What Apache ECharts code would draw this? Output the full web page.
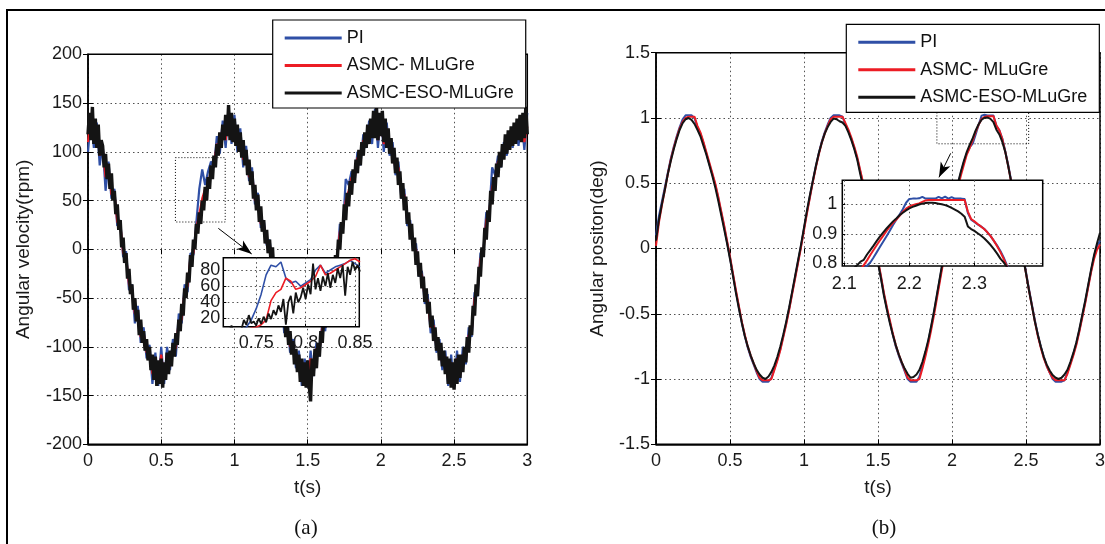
<!DOCTYPE html>
<html><head><meta charset="utf-8">
<script src="https://cdn.jsdelivr.net/npm/echarts@6/dist/echarts.min.js"></script>
<style>html,body{margin:0;padding:0;background:#fff}#c{width:1105px;height:544px}</style>
</head><body><div id="c"></div>
<script>
// ---------- DATA ----------
const seriesNames = ['PI', 'ASMC- MLuGre', 'ASMC-ESO-MLuGre'];
const xTicksMain = [0, 0.5, 1, 1.5, 2, 2.5, 3];
const velTicks = [-200, 200, 50];
const posTicks = [-1.5, 1.5, 0.5];
const insetATicksX = [0.75, 0.8, 0.85];
const insetATicksY = [20, 40, 60, 80];
const insetBTicksX = [2.1, 2.2, 2.3];
const insetBTicksY = [0.8, 0.9, 1];

// (a) angular velocity, ASMC-ESO-MLuGre, t = 0..3 step 0.01
const velESO = [
118,140,112,146,108,134,104,128,96,112,
106,84,98,72,88,62,78,50,60,36,
46,20,30,2,12,-14,-4,-30,-20,-46,
-36,-62,-50,-74,-62,-88,-72,-96,-84,-104,
-92,-114,-100,-124,-108,-134,-110,-140,-114,-138,
-112,-142,-116,-134,-106,-128,-104,-120,-96,-110,
-86,-98,-72,-84,-56,-68,-40,-50,-24,-34,
-6,-18,10,0,26,16,38,26,50,40,
64,50,74,62,86,72,96,84,108,96,
120,104,128,112,138,116,148,112,140,110,
134,106,128,100,120,94,112,86,102,76,
92,66,80,52,66,40,56,28,44,18,
30,6,20,-4,10,-14,2,-28,-16,-42,
-30,-58,-46,-72,-60,-90,-74,-98,-84,-108,
-94,-118,-102,-126,-108,-136,-112,-140,-116,-142,
-114,-138,-156,-112,-130,-102,-122,-96,-110,-84,
-96,-68,-80,-52,-64,-36,-50,-22,-34,-6,
-16,10,0,28,16,46,30,58,44,70,
56,82,68,92,78,102,86,110,96,120,
104,128,108,134,114,142,114,146,112,140,
116,142,110,134,104,124,98,114,88,104,
78,94,66,80,52,68,40,54,26,38,
10,26,-2,12,-16,-2,-28,-14,-40,-28,
-54,-40,-66,-54,-80,-68,-94,-80,-104,-90,
-114,-96,-120,-104,-128,-110,-138,-112,-142,-116,
-144,-112,-138,-108,-132,-108,-126,-100,-116,-90,
-106,-78,-88,-58,-68,-36,-48,-18,-28,2,
-8,22,10,40,28,60,46,74,60,88,
74,100,84,108,92,118,98,122,102,126,
106,130,108,134,112,138,110,140,114,146,
118];
// (a) PI, t step 0.02
const velPI = [
100,135,104,130,86,108,60,90,52,62,
24,30,-8,-2,-42,-36,-76,-58,-96,-80,
-112,-98,-138,-106,-140,-100,-138,-100,-124,-92,
-110,-66,-76,-36,-44,-4,-6,28,62,82,
66,80,90,84,116,98,132,104,146,108,
138,100,124,84,106,70,84,46,58,22,
30,4,10,-20,-16,-52,-46,-86,-70,-106,
-92,-122,-104,-140,-112,-142,-104,-130,-96,-110,
-74,-84,-44,-52,-10,-16,26,18,72,66,
80,68,100,86,118,104,132,108,144,104,
138,100,130,96,110,76,90,52,62,24,
30,0,6,-28,-22,-56,-46,-86,-72,-106,
-92,-124,-104,-140,-108,-142,-104,-136,-100,-118,
-80,-90,-44,-48,-4,-2,38,36,84,76,
96,84,110,96,120,104,128,106,134,102,
140];
// (a) ASMC- MLuGre, t step 0.02
const velASMC = [
110,138,112,126,96,104,74,84,56,58,
28,26,-4,-8,-36,-42,-66,-66,-90,-86,
-106,-104,-128,-114,-134,-108,-132,-108,-120,-98,
-102,-74,-72,-42,-38,-8,-4,22,36,52,
62,64,82,86,108,104,126,112,138,114,
132,106,118,92,100,74,78,50,52,26,
26,6,6,-16,-22,-46,-52,-78,-78,-100,
-98,-116,-110,-134,-118,-136,-112,-124,-102,-104,
-80,-78,-50,-46,-16,-12,18,22,50,60,
74,72,94,92,112,108,126,116,138,112,
134,108,124,102,104,82,84,58,56,30,
26,4,0,-22,-26,-50,-52,-80,-78,-100,
-98,-118,-110,-134,-116,-138,-112,-130,-108,-112,
-88,-84,-50,-42,-10,-2,30,38,64,72,
90,90,106,102,116,110,124,114,130,110,
126];
// (a) inset, ESO from t=0.72 step 0.0025
const insetA_ESO = [0,4,11,2,5,0,6,18,12,24,14,16,11,20,13,22,15,26,19,30,24,36,28,44,12,40,48,26,52,40,46,58,44,62,50,88,56,70,54,72,60,76,58,74,64,82,70,86,48,84,74,90,80,86,78];
// (a) inset, PI and ASMC from t=0.72 step 0.005
const insetA_PI = [0,2,4,6,9,18,32,50,74,86,84,90,70,64,66,60,64,68,80,86,76,80,84,86,88,92,88,84];
const insetA_ASMC = [0,1,3,4,6,8,9,12,18,42,52,56,70,66,56,58,62,66,72,86,74,76,80,84,88,92,94,90];

// (b) angular position, t step 0.02
const posESO = [
0.06,0.22,0.34,0.45,0.57,0.67,0.76,0.84,0.91,0.96,
0.99,1.0,0.985,0.955,0.91,0.86,0.79,0.72,0.64,0.56,
0.47,0.37,0.26,0.15,0.04,-0.08,-0.21,-0.34,-0.46,-0.57,
-0.67,-0.75,-0.82,-0.88,-0.93,-0.965,-0.99,-1.0,-0.98,-0.945,
-0.895,-0.83,-0.75,-0.66,-0.56,-0.45,-0.33,-0.21,-0.09,0.03,
0.16,0.29,0.41,0.52,0.63,0.73,0.81,0.88,0.93,0.97,
0.995,0.99,0.975,0.965,0.94,0.89,0.83,0.76,0.68,0.57,
0.47,0.36,0.24,0.12,0.0,-0.11,-0.23,-0.36,-0.47,-0.57,
-0.66,-0.74,-0.81,-0.87,-0.92,-0.96,-0.99,-0.985,-0.965,-0.93,
-0.87,-0.79,-0.7,-0.59,-0.47,-0.34,-0.21,-0.08,0.05,0.17,
0.29,0.4,0.5,0.59,0.67,0.74,0.795,0.845,0.905,0.952,
0.986,1.002,1.004,0.993,0.968,0.91,0.874,0.816,0.74,0.63,
0.51,0.37,0.22,0.07,-0.07,-0.19,-0.32,-0.44,-0.56,-0.66,
-0.75,-0.83,-0.89,-0.935,-0.97,-0.99,-1.0,-0.99,-0.965,-0.93,
-0.87,-0.8,-0.72,-0.62,-0.51,-0.4,-0.28,-0.16,-0.05,0.04,
0.12];
const posPI = [
0.1,0.25,0.36,0.47,0.58,0.69,0.78,0.86,0.93,0.99,
1.02,1.02,1.02,1.0,0.93,0.88,0.81,0.73,0.65,0.57,
0.49,0.39,0.28,0.17,0.05,-0.07,-0.2,-0.33,-0.45,-0.57,
-0.67,-0.76,-0.83,-0.89,-0.95,-1.0,-1.02,-1.02,-1.02,-0.99,
-0.92,-0.85,-0.77,-0.67,-0.57,-0.46,-0.34,-0.22,-0.1,0.02,
0.15,0.28,0.4,0.52,0.63,0.73,0.82,0.89,0.95,1.0,
1.02,1.02,1.02,1.01,0.95,0.9,0.84,0.77,0.69,0.59,
0.49,0.38,0.26,0.14,0.02,-0.1,-0.22,-0.35,-0.46,-0.56,
-0.66,-0.75,-0.82,-0.88,-0.94,-1.0,-1.02,-1.02,-1.02,-0.98,
-0.9,-0.81,-0.71,-0.6,-0.48,-0.35,-0.22,-0.09,0.04,0.16,
0.28,0.39,0.49,0.58,0.66,0.73,0.776,0.803,0.874,0.948,
1.018,1.025,1.019,1.019,1.019,0.94,0.905,0.842,0.745,0.64,
0.52,0.38,0.24,0.09,-0.05,-0.18,-0.31,-0.43,-0.55,-0.66,
-0.75,-0.83,-0.9,-0.95,-1.0,-1.02,-1.02,-1.02,-1.01,-0.95,
-0.88,-0.81,-0.73,-0.63,-0.52,-0.41,-0.29,-0.17,-0.06,0.02,
0.06];
const posASMC = [
0.02,0.2,0.33,0.45,0.57,0.68,0.77,0.85,0.92,0.97,
1.0,1.01,1.01,1.01,0.94,0.89,0.82,0.74,0.66,0.58,
0.5,0.4,0.29,0.18,0.06,-0.06,-0.19,-0.32,-0.44,-0.56,
-0.66,-0.75,-0.82,-0.88,-0.94,-0.99,-1.01,-1.01,-1.01,-1.0,
-0.93,-0.86,-0.78,-0.68,-0.58,-0.47,-0.35,-0.23,-0.11,0.01,
0.14,0.27,0.39,0.51,0.62,0.72,0.81,0.88,0.94,0.99,
1.01,1.01,1.01,1.01,0.96,0.91,0.85,0.78,0.7,0.6,
0.5,0.39,0.27,0.15,0.03,-0.09,-0.21,-0.34,-0.45,-0.55,
-0.65,-0.74,-0.81,-0.87,-0.93,-0.99,-1.01,-1.01,-1.01,-1.0,
-0.92,-0.83,-0.73,-0.62,-0.5,-0.37,-0.24,-0.11,0.02,0.14,
0.26,0.37,0.47,0.56,0.64,0.72,0.772,0.828,0.894,0.948,
0.992,1.008,1.014,1.014,1.014,0.942,0.905,0.838,0.74,0.63,
0.51,0.37,0.23,0.08,-0.06,-0.19,-0.32,-0.44,-0.56,-0.67,
-0.76,-0.84,-0.9,-0.95,-0.99,-1.01,-1.01,-1.01,-1.01,-0.96,
-0.89,-0.82,-0.74,-0.64,-0.53,-0.42,-0.3,-0.18,-0.08,-0.01,
0.03];
// (b) inset, t = 2.095 .. 2.36 step 0.005
const insetB_ESO = [0.73,0.745,0.76,0.772,0.784,0.794,0.806,0.812,0.83,0.845,
0.86,0.876,0.891,0.905,0.918,0.93,0.942,0.952,0.963,0.971,
0.979,0.986,0.991,0.995,0.999,1.002,1.004,1.005,1.005,1.004,
1.002,1.0,0.997,0.993,0.988,0.982,0.976,0.968,0.958,0.925,
0.916,0.91,0.902,0.894,0.885,0.874,0.862,0.848,0.833,0.816,
0.803,0.788,0.77,0.75];
const insetB_PI = [0.70,0.715,0.73,0.742,0.754,0.765,0.775,0.784,0.792,0.803,
0.82,0.838,0.856,0.874,0.892,0.91,0.93,0.948,0.965,0.983,
1.005,1.018,1.019,1.019,1.02,1.025,1.019,1.019,1.019,1.019,
1.025,1.02,1.026,1.019,1.024,1.019,1.019,1.019,1.018,0.97,
0.948,0.94,0.932,0.925,0.917,0.905,0.892,0.876,0.86,0.842,
0.82,0.794,0.77,0.745];
const insetB_ASMC = [0.69,0.705,0.72,0.735,0.75,0.765,0.779,0.794,0.81,0.828,
0.845,0.862,0.878,0.894,0.91,0.924,0.937,0.948,0.961,0.974,
0.985,0.992,0.997,1.0,1.003,1.008,1.013,1.014,1.014,1.014,
1.014,1.014,1.014,1.014,1.014,1.014,1.014,1.014,1.014,0.975,
0.95,0.942,0.933,0.925,0.916,0.905,0.892,0.876,0.858,0.838,
0.815,0.79,0.765,0.74];

// annotation anchors in data units (zoom rectangles and arrows)
const zoomRectA = [[0.597, 94], [0.937, 28]];
const arrowA = [[0.89, 21.5], [1.118, -4.8]];
const zoomRectB = [[1.898, 1.094], [2.518, 0.802]];
const arrowB = [[1.991, 0.729], [1.912, 0.545]];

// ---------- BUILD ----------
function pairs(t0, dt, vals) { return vals.map((v, i) => [Math.round((t0 + i * dt) * 100000) / 100000, v]); }
const FONT = '"Liberation Sans", Arial, Helvetica, sans-serif';
const C_BLUE = '#2f4fa6', C_RED = '#ec1c24', C_BLACK = '#141414';
const GRID_LINE = { show: true, lineStyle: { type: [1.5, 3], color: '#505050', width: 1 } };

function mainX(grid, name) {
  return [{
    gridIndex: grid, type: 'value', min: xTicksMain[0], max: xTicksMain[xTicksMain.length - 1], interval: 0.5,
    position: 'bottom', z: 0,
    axisLine: { show: true, onZero: false, lineStyle: { color: '#000', width: 1.5 } },
    axisTick: { show: true, inside: true, length: 5, lineStyle: { color: '#000', width: 1 } },
    axisLabel: { fontSize: 18, fontFamily: FONT, color: '#1a1a1a', margin: 8, hideOverlap: false },
    splitLine: GRID_LINE,
    name: name, nameLocation: 'middle', nameGap: 34,
    nameTextStyle: { fontSize: 19, fontFamily: FONT, color: '#1a1a1a' }
  }, {
    gridIndex: grid, type: 'value', min: xTicksMain[0], max: xTicksMain[xTicksMain.length - 1], interval: 0.5,
    position: 'top', z: 0,
    axisLine: { show: false }, axisLabel: { show: false }, splitLine: { show: false },
    axisTick: { show: true, inside: true, length: 5, lineStyle: { color: '#000', width: 1 } }
  }];
}
function mainY(grid, ticks, name, gap) {
  return [{
    gridIndex: grid, type: 'value', min: ticks[0], max: ticks[1], interval: ticks[2], position: 'left', z: 0,
    axisLine: { show: true, onZero: false, lineStyle: { color: '#000', width: 1.5 } },
    axisTick: { show: true, inside: true, length: 5, lineStyle: { color: '#000', width: 1 } },
    axisLabel: { fontSize: 18, fontFamily: FONT, color: '#1a1a1a', margin: 6, hideOverlap: false },
    splitLine: GRID_LINE,
    name: name, nameLocation: 'middle', nameGap: gap, nameRotate: 90,
    nameTextStyle: { fontSize: 19, fontFamily: FONT, color: '#1a1a1a' }
  }, {
    gridIndex: grid, type: 'value', min: ticks[0], max: ticks[1], interval: ticks[2], position: 'right', z: 0,
    axisLine: { show: false }, axisLabel: { show: false }, splitLine: { show: false },
    axisTick: { show: true, inside: true, length: 5, lineStyle: { color: '#000', width: 1 } }
  }];
}
function insetGridAxis(grid, min, max, ticks, pos) {
  return {
    gridIndex: grid, type: 'value', min: min, max: max, position: pos, z: 11,
    axisLine: { show: false },
    axisTick: { show: true, inside: true, length: 3, customValues: ticks, lineStyle: { color: '#000' } },
    axisLabel: { show: false, customValues: ticks },
    splitLine: GRID_LINE
  };
}
function insetLabelAxis(grid, min, max, ticks, pos, margin) {
  return {
    gridIndex: grid, type: 'value', min: min, max: max, position: pos, z: 1,
    axisLine: { show: false }, axisTick: { show: false, customValues: ticks },
    axisLabel: { show: true, customValues: ticks, fontSize: 18, fontFamily: FONT, color: '#1a1a1a', margin: margin, hideOverlap: false, showMinLabel: true, showMaxLabel: true },
    splitLine: { show: false }
  };
}
function line(name, data, xi, yi, color, width, z, extra) {
  return Object.assign({
    name: name, type: 'line', xAxisIndex: xi, yAxisIndex: yi, data: data,
    showSymbol: false, symbol: 'none', z: z, clip: true, silent: true,
    lineStyle: { color: color, width: width }, itemStyle: { color: color },
    emphasis: { disabled: true }, animation: false
  }, extra || {});
}
function annot(rect, arrow, head) {
  return {
    markArea: {
      silent: true, animation: false,
      itemStyle: { color: 'rgba(0,0,0,0)', borderColor: '#000', borderWidth: 1, borderType: [1, 2] },
      label: { show: false },
      data: [[{ coord: rect[0] }, { coord: rect[1] }]]
    },
    markLine: {
      silent: true, animation: false, symbol: ['none', 'arrow'], symbolSize: head,
      lineStyle: { color: '#000', width: 1, type: 'solid' }, label: { show: false },
      data: [[{ coord: arrow[0] }, { coord: arrow[1] }]]
    }
  };
}
function legend(left, top) {
  return {
    data: seriesNames, left: left, top: top, orient: 'vertical', z: 20,
    padding: [8, 12, 5, 12], itemGap: 7.5, itemWidth: 57, itemHeight: 3, icon: 'rect',
    backgroundColor: '#fff', borderColor: '#000', borderWidth: 1.2, borderRadius: 0,
    selectedMode: false, itemStyle: { borderWidth: 0 },
    textStyle: { fontSize: 18, fontFamily: FONT, color: '#111', lineHeight: 20 }
  };
}

// inset (a) y labels split over two label axes so the tightly stacked labels are all kept
const insetAYLabelsA = insetATicksY.filter((v, i) => i % 2 === 0);
const insetAYLabelsB = insetATicksY.filter((v, i) => i % 2 === 1);

const option = {
  animation: false,
  backgroundColor: '#fff',
  grid: [
    { left: 88, top: 54.3, width: 439.3, height: 390, show: true, borderColor: '#000', borderWidth: 1.5, backgroundColor: 'transparent', z: 2, containLabel: false, outerBoundsMode: 'none' },
    { left: 223.3, top: 257.7, width: 136, height: 69, show: true, borderColor: '#000', borderWidth: 1.5, backgroundColor: '#fff', z: 10, containLabel: false, outerBoundsMode: 'none' },
    { left: 656, top: 52.7, width: 444, height: 391.6, show: true, borderColor: '#000', borderWidth: 1.5, backgroundColor: 'transparent', z: 2, containLabel: false, outerBoundsMode: 'none' },
    { left: 842.3, top: 180.3, width: 200.4, height: 85.7, show: true, borderColor: '#000', borderWidth: 1.5, backgroundColor: '#fff', z: 10, containLabel: false, outerBoundsMode: 'none' }
  ],
  xAxis: [].concat(
    mainX(0, 't(s)'),
    [insetGridAxis(1, 0.7167, 0.8543, insetATicksX, 'bottom'), insetLabelAxis(1, 0.7167, 0.8543, insetATicksX, 'bottom', 7)],
    mainX(2, 't(s)'),
    [insetGridAxis(3, 2.097, 2.405, insetBTicksX, 'bottom'), insetLabelAxis(3, 2.097, 2.405, insetBTicksX, 'bottom', 9)]
  ),
  yAxis: [].concat(
    mainY(0, velTicks, 'Angular velocity(rpm)', 55),
    [insetGridAxis(1, 9.6, 95.3, insetATicksY, 'left'), insetLabelAxis(1, 9.6, 95.3, insetAYLabelsA, 'left', 3)],
    mainY(2, posTicks, 'Angular positon(deg)', 49),
    [insetGridAxis(3, 0.791, 1.081, insetBTicksY, 'left'), insetLabelAxis(3, 0.791, 1.081, insetBTicksY, 'left', 5)],
    [insetLabelAxis(1, 9.6, 95.3, insetAYLabelsB, 'left', 3)]
  ),
  legend: [legend(272.7, 20), legend(846.3, 24.3)],
  series: [
    line(seriesNames[0], pairs(0, 0.02, velPI), 0, 0, C_BLUE, 2.2, 2),
    line(seriesNames[1], pairs(0, 0.02, velASMC), 0, 0, C_RED, 2.2, 2),
    line(seriesNames[2], pairs(0, 0.01, velESO), 0, 0, C_BLACK, 3.4, 2, annot(zoomRectA, arrowA, [8, 15])),
    line(seriesNames[0], pairs(0.72, 0.005, insetA_PI), 2, 2, C_BLUE, 1.6, 12),
    line(seriesNames[1], pairs(0.72, 0.005, insetA_ASMC), 2, 2, C_RED, 1.6, 12),
    line(seriesNames[2], pairs(0.72, 0.0025, insetA_ESO), 2, 2, C_BLACK, 1.8, 12),
    line(seriesNames[0], pairs(0, 0.02, posPI), 4, 4, C_BLUE, 2, 2),
    line(seriesNames[1], pairs(0, 0.02, posASMC), 4, 4, C_RED, 2, 2),
    line(seriesNames[2], pairs(0, 0.02, posESO), 4, 4, C_BLACK, 2, 2, annot(zoomRectB, arrowB, [8, 15])),
    line(seriesNames[0], pairs(2.095, 0.005, insetB_PI), 6, 6, C_BLUE, 2, 12),
    line(seriesNames[1], pairs(2.095, 0.005, insetB_ASMC), 6, 6, C_RED, 2, 12),
    line(seriesNames[2], pairs(2.095, 0.005, insetB_ESO), 6, 6, C_BLACK, 2, 12)
  ],
  graphic: [
    { type: 'line', silent: true, z: 30, shape: { x1: 6, y1: 10, x2: 1105, y2: 10 }, style: { stroke: '#000', lineWidth: 2 } },
    { type: 'line', silent: true, z: 30, shape: { x1: 7, y1: 9, x2: 7, y2: 544 }, style: { stroke: '#000', lineWidth: 2 } },
    { type: 'text', silent: true, z: 30, x: 306, y: 528, style: { text: '(a)', font: '21px "Liberation Serif", "Times New Roman", serif', fill: '#111', textAlign: 'center', textVerticalAlign: 'middle' } },
    { type: 'text', silent: true, z: 30, x: 884, y: 528, style: { text: '(b)', font: '21px "Liberation Serif", "Times New Roman", serif', fill: '#111', textAlign: 'center', textVerticalAlign: 'middle' } }
  ]
};
const chart = echarts.init(document.getElementById('c'), null, { renderer: 'canvas' });
chart.setOption(option);
</script>
</body></html>
